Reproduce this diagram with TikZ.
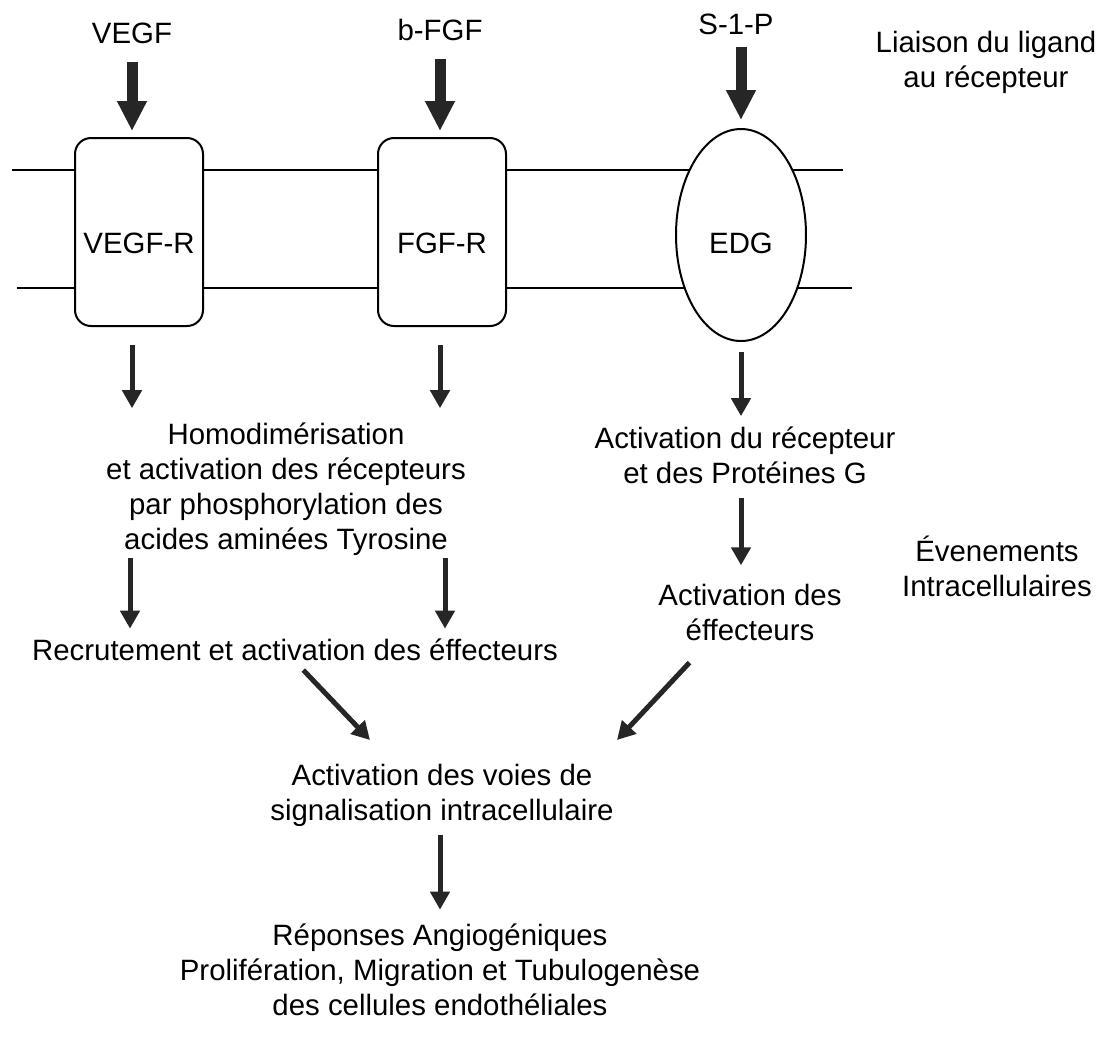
\documentclass[tikz,border=0pt]{standalone}
\usepackage{fontspec}
\setmainfont{Liberation Sans}
\usetikzlibrary{arrows.meta,shapes.geometric,calc}

\begin{document}
\begin{tikzpicture}[x=0.5pt, y=-0.5pt, font=\fontsize{14.7}{17.5}\selectfont,
    txt/.style={align=center, inner sep=0pt},
    recbox/.style={draw, line width=1pt, fill=white, rounded corners=8pt,
        text height=21pt, text depth=0pt, minimum width=64pt, minimum height=94pt},
    recoval/.style={draw, line width=1pt, fill=white, ellipse, inner sep=0pt,
        text height=18pt, text depth=0pt, minimum width=65pt, minimum height=106pt},
    ligarrow/.style={-{Triangle[width=14pt,length=15pt]}, line width=5.5pt, black!85},
    flow/.style={-{Triangle[width=9.5pt,length=9pt]}, line width=2.5pt, black!85}]
\useasboundingbox (0,0) rectangle (1100,1041);

\draw[line width=1pt] (12,170) -- (843,170);
\draw[line width=1pt] (17,288) -- (852,288);

\node[recbox] (vegfr) at (139,232) {VEGF-R};
\node[recbox] (fgfr) at (442,232) {FGF-R};
\node[recoval] (edg) at (741,235) {EDG};

\node[txt] (vegf) at (132,33) {VEGF};
\node[txt] (bfgf) at (440,30) {b-FGF};
\node[txt] (sip) at (736,24) {S-1-P};
\node[txt] (liaison) at (986,62) {Liaison du ligand\\au récepteur};

\draw[ligarrow, shorten <=9pt, shorten >=3pt] (vegf) -- (vegf |- vegfr.north);
\draw[ligarrow, shorten <=9pt, shorten >=3pt] (bfgf) -- (bfgf |- fgfr.north);
\draw[ligarrow, shorten <=6pt, shorten >=4pt] (sip.south -| edg) -- (edg.north);

\node[txt] (homo) at (286,489) {Homodimérisation\\et activation des récepteurs\\par phosphorylation des\\acides aminées Tyrosine};
\node[txt] (prot) at (745,455) {Activation du récepteur\\et des Protéines G};
\node[txt] (recrut) at (295,650) {Recrutement et activation des éffecteurs};
\node[txt] (effr) at (750,612) {Activation des\\éffecteurs};
\node[txt] (evt) at (997,566) {Évenements\\Intracellulaires};
\node[txt] (voies) at (442,795) {Activation des voies de\\signalisation intracellulaire};
\node[txt] (rep) at (440,970) {Réponses Angiogéniques\\Prolifération, Migration et Tubulogenèse\\des cellules endothéliales};

\draw[flow, shorten <=9pt, shorten >=7pt] (vegfr.south -| vegf) -- (homo.north -| vegf);
\draw[flow, shorten <=9pt, shorten >=7pt] (fgfr.south -| bfgf) -- (homo.north -| bfgf);
\draw[flow, shorten <=5pt, shorten >=5pt] (edg.south) -- (prot.north -| edg);
\draw[flow, shorten <=7pt, shorten >=9pt] (prot.south -| edg) -- (effr.north -| edg);
\draw[flow, shorten <=1pt, shorten >=5pt] (homo.south -| 130,0) -- (recrut.north -| 130,0);
\draw[flow, shorten <=1pt, shorten >=5pt] (homo.south -| 445,0) -- (recrut.north -| 445,0);

\coordinate (inl) at (370,740);
\coordinate (inr) at (617,740);
\draw[flow, shorten <=6pt] (recrut.south) -- (inl);
\draw[flow, shorten <=15pt] ($(effr.south)+(-40,0)$) -- (inr);

\draw[flow, shorten <=4pt, shorten >=7pt] (voies.south -| rep) -- (rep.north);
\end{tikzpicture}
\end{document}
